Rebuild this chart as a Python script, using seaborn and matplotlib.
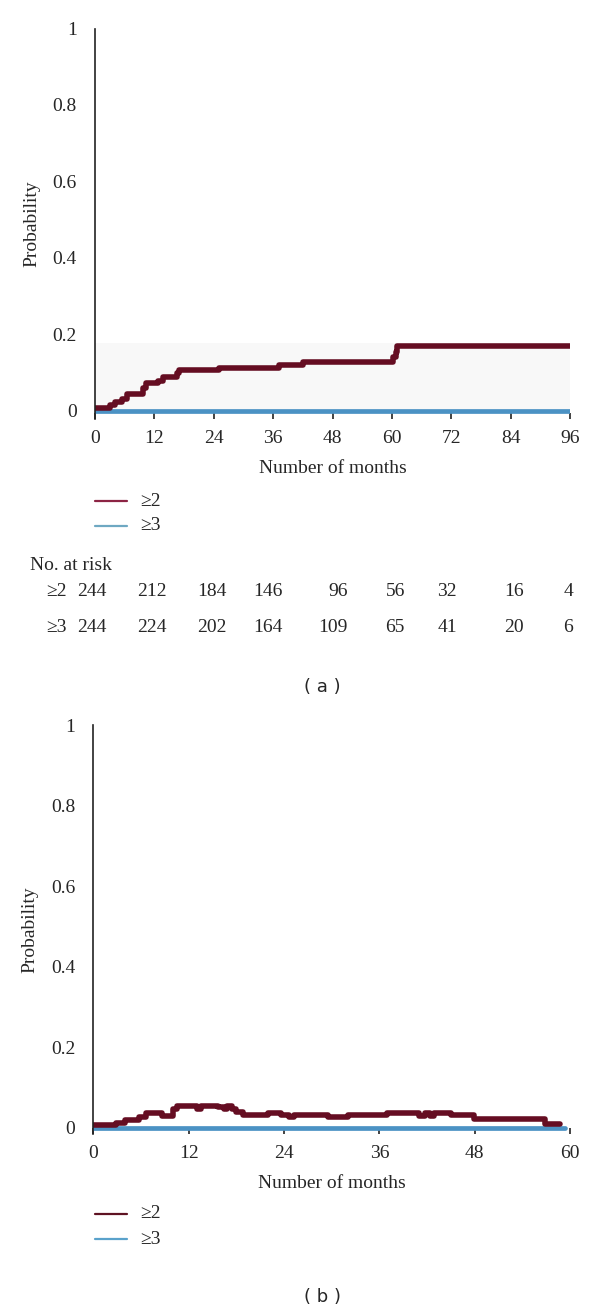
import numpy as np
import pandas as pd
import seaborn as sns
import matplotlib.pyplot as plt
from matplotlib.lines import Line2D

# panel (a): cumulative probability, step curve (month, probability)
months_a_ge2 = [0, 3.0, 4.0, 5.4, 6.4, 9.8, 10.3, 12.8, 13.7, 16.6, 17.0, 25.1, 37.1, 42.0, 60.3, 60.8, 61.1, 96]
prob_a_ge2 = [0.006, 0.014, 0.022, 0.030, 0.043, 0.058, 0.073, 0.078, 0.088, 0.099, 0.106, 0.112, 0.119, 0.127, 0.140, 0.154, 0.168, 0.168]
months_a_ge3 = [0, 96]
prob_a_ge3 = [0.0, 0.0]

# panel (b)
months_b_ge2 = [0, 2.9, 4.0, 5.7, 6.6, 8.6, 10.0, 10.5, 13.1, 13.6, 15.7, 16.4, 16.8, 17.5, 18.0, 18.8,
                22.0, 23.6, 24.6, 25.2, 29.6, 32.1, 37.0, 41.0, 41.8, 42.4, 42.9, 45.0, 47.9, 51.0, 56.9, 58.8]
prob_b_ge2 = [0.006, 0.011, 0.018, 0.025, 0.037, 0.029, 0.046, 0.053, 0.047, 0.053, 0.050, 0.047, 0.053, 0.047, 0.039, 0.030,
              0.036, 0.031, 0.025, 0.031, 0.025, 0.031, 0.037, 0.028, 0.036, 0.028, 0.037, 0.030, 0.021, 0.022, 0.008, 0.008]
months_b_ge3 = [0, 59.4]
prob_b_ge3 = [0.0, 0.0]

# number at risk table (panel a)
risk_groups = ['≥2', '≥3']
risk_ge2 = [244, 212, 184, 146, 96, 56, 32, 16, 4]
risk_ge3 = [244, 224, 202, 164, 109, 65, 41, 20, 6]

groups = ['≥2', '≥3']
line_colors = {'≥2': '#650d22', '≥3': '#4b92c4'}
legend_colors_a = ['#8c2444', '#6ea8c2']
legend_colors_b = ['#5e1222', '#5aa2cb']

W, H = 600, 1312
FS = 14
sns.set_theme(style='white')
plt.rcParams['font.family'] = ['Liberation Serif', 'DejaVu Serif']
plt.rcParams['font.size'] = FS

fig = plt.figure(figsize=(W / 100, H / 100), dpi=100)


def fx(px):
    return px / W


def fy(py):
    return 1 - py / H


def make_df(m2, p2, m3, p3):
    d2 = pd.DataFrame({'month': m2, 'prob': p2, 'group': '≥2'})
    d3 = pd.DataFrame({'month': m3, 'prob': p3, 'group': '≥3'})
    return pd.concat([d3, d2], ignore_index=True)


def style_axis(ax, xmax, ymin):
    ax.set_xlim(0, xmax)
    ax.set_ylim(ymin, 1)
    ax.set_xticks(np.arange(0, xmax + 1, 12))
    ax.set_yticks([0, 0.2, 0.4, 0.6, 0.8, 1])
    ax.set_yticklabels(['0', '0.2', '0.4', '0.6', '0.8', '1'])
    for s in ['top', 'right', 'bottom']:
        ax.spines[s].set_visible(False)
    ax.spines['left'].set_color('#222222')
    ax.spines['left'].set_linewidth(1.2)
    ax.tick_params(axis='y', direction='out', length=7, width=1.2, color='#222222', pad=6, labelsize=FS)
    ax.tick_params(axis='x', direction='in', length=4.5, width=1.2, color='#222222', pad=8, labelsize=FS, bottom=True)
    ax.set_xlabel('Number of months', fontsize=FS, labelpad=9)
    ax.set_ylabel('Probability', fontsize=FS, labelpad=9)
    ax.set_facecolor('white')
    ax.grid(False)


def draw_legend(y_rows, colors):
    for yy, c, g in zip(y_rows, colors, groups):
        fig.add_artist(Line2D([fx(95), fx(127)], [fy(yy), fy(yy)], color=c, lw=1.6, transform=fig.transFigure))
        fig.text(fx(140), fy(yy), g, ha='left', va='center', fontsize=FS)


# ---- panel (a)
ax1 = fig.add_axes([fx(95), fy(419), fx(570) - fx(95), (419 - 28.5) / H])
ax1.axhspan(0, 0.176, color='#f8f8f8', zorder=0, lw=0)
df_a = make_df(months_a_ge2, prob_a_ge2, months_a_ge3, prob_a_ge3)
for g, lw in [('≥3', 3.4), ('≥2', 4.0)]:
    sns.lineplot(data=df_a[df_a['group'] == g], x='month', y='prob', estimator=None, sort=False,
                 color=line_colors[g], lw=lw, drawstyle='steps-post', ax=ax1, legend=False)
style_axis(ax1, 96, -0.022)

draw_legend([501, 526], legend_colors_a)

fig.text(fx(30), fy(565), 'No. at risk', ha='left', va='center', fontsize=FS)
right_edges = [107, 167, 227, 283, 348, 405, 457, 524, 573]
for yy, g, vals in zip([592, 628], risk_groups, [risk_ge2, risk_ge3]):
    fig.text(fx(67), fy(yy), g, ha='right', va='center', fontsize=FS)
    for xr, v in zip(right_edges, vals):
        fig.text(fx(xr), fy(yy), str(v), ha='right', va='center', fontsize=FS)

fig.text(fx(322), fy(687), '( a )', ha='center', va='center', fontsize=13, family='DejaVu Sans')

# ---- panel (b)
ax2 = fig.add_axes([fx(93.3), fy(1134), fx(570) - fx(93.3), (1134 - 725) / H])
df_b = make_df(months_b_ge2, prob_b_ge2, months_b_ge3, prob_b_ge3)
for g, lw in [('≥3', 3.4), ('≥2', 4.0)]:
    sns.lineplot(data=df_b[df_b['group'] == g], x='month', y='prob', estimator=None, sort=False,
                 color=line_colors[g], lw=lw, drawstyle='steps-post', ax=ax2, legend=False)
style_axis(ax2, 60, -0.016)

draw_legend([1214, 1239], legend_colors_b)

fig.text(fx(322), fy(1297), '( b )', ha='center', va='center', fontsize=13, family='DejaVu Sans')

fig.savefig('out.png', dpi=100, facecolor='white')
